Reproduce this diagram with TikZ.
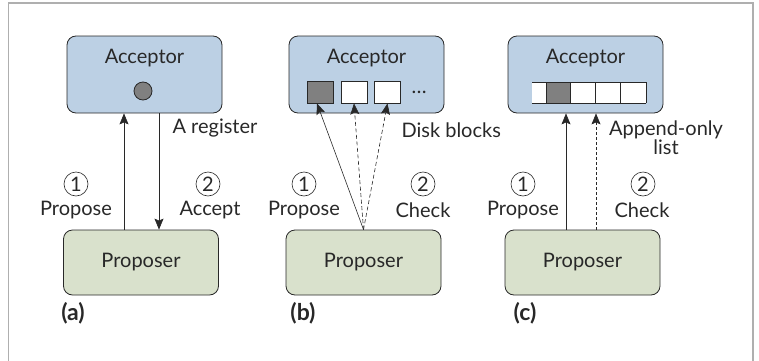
\documentclass[tikz,border=0pt]{standalone}
\usepackage{fontspec}
\setmainfont{Lato}
\usetikzlibrary{arrows.meta,positioning,calc}
\definecolor{myBlue}{RGB}{188,208,228}
\definecolor{myGreen}{RGB}{217,225,204}
\definecolor{myDGray}{RGB}{40,40,40}
\definecolor{myMGray}{RGB}{128,128,128}
\definecolor{myFrame}{RGB}{175,175,175}

\begin{document}
\begin{tikzpicture}[x=1pt, y=1pt, font=\fontsize{20}{20}\selectfont, text=myDGray,
    box/.style={draw=myDGray, thick, rounded corners=9pt, minimum width=155pt, inner sep=0pt},
    acc/.style={box, fill=myBlue, minimum height=77pt},
    prop/.style={box, fill=myGreen, minimum height=65pt},
    cell/.style={draw=myDGray, thick, fill=white, minimum width=26pt, minimum height=22pt, inner sep=0pt},
    num/.style={circle, draw=myDGray, semithick, inner sep=0pt, minimum size=24pt},
    subcap/.style={font=\fontsize{23}{23}\selectfont\bfseries},
    arr/.style={myDGray, semithick, -{Stealth[length=11pt, width=9pt, inset=2pt]}},
    dsh/.style={arr, dash pattern=on 4pt off 2.5pt}]
  \useasboundingbox (0,0) rectangle (759,360);
  \clip (0,0) rectangle (759,360);
  % Rahmen
  \draw[myFrame, line width=1.5pt] (8.5,357) rectangle (753,-20);

  % (a) register
  \node[acc] (aA) at (144.5,285.5) {};
  \node (aAt) at ($(aA.north)+(0,-22)$) {Acceptor};
  \node[circle, draw=myDGray, thick, fill=myMGray, minimum size=18pt, inner sep=0pt] (aReg) at (143,269) {};
  \node[prop] (aP) at (141,97.5) {Proposer};
  \draw[arr] ([xshift=-17pt]aP.north) -- ([xshift=-17pt]aP.north |- aA.south);
  \draw[arr] ([xshift=14.5pt]aA.south) -- ([xshift=14.5pt]aA.south |- aP.north);
  \node[anchor=west] (aRegL) at (169,232) {A register};
  \node[num] (a1) at (76,176) {1};
  \node (a1t) at (76,150) {Propose};
  \node[num] (a2) at (208,176) {2};
  \node (a2t) at (210,150) {Accept};
  \node[subcap] (aCap) at (73,47) {(a)};

  % (b) disk blocks
  \node[acc] (bA) at (366.5,285.5) {};
  \node (bAt) at ($(bA.north)+(0,-22)$) {Acceptor};
  \node[cell, fill=myMGray] (b1) at (320,268) {};
  \node[cell] (b2) at (354,268) {};
  \node[cell] (b3) at (387.5,268) {};
  \node (bDots) at (419,268) {\dots};
  \node[prop] (bP) at (363.5,97.5) {Proposer};
  \draw[arr] (bP.north) -- ([xshift=-3pt]b1.south);
  \foreach \b in {b2,b3}
    \draw[dsh] (bP.north) -- (\b.south);
  \node[anchor=west] (bDisk) at (398,230) {Disk blocks};
  \node[num] (b1n) at (304,176) {1};
  \node (b1t) at (304,150) {Propose};
  \node[num] (b2n) at (423,176) {2};
  \node (b2t) at (423,150) {Check};
  \node[subcap] (bCap) at (303,47) {(b)};

  % (c) append-only list
  \node[acc] (cA) at (585.5,285.5) {};
  \node (cAt) at ($(cA.north)+(0,-22)$) {Acceptor};
  \fill[white] (532,257) rectangle (646,278);
  \fill[myMGray] (546,257) rectangle (570,278);
  \draw[myDGray, thick] (532,257) -- (646,257) (532,278) -- (646,278);
  \foreach \x in {546,570,595,620,646}
    \draw[myDGray, thick] (\x,257) -- (\x,278);
  \node[prop] (cP) at (582.5,97.5) {Proposer};
  \draw[arr] ([xshift=-16.5pt]cP.north) -- ([xshift=-16.5pt]cP.north |- cA.south);
  \draw[dsh, dash pattern=on 3pt off 2pt] ([xshift=13.5pt]cP.north) -- ([xshift=13.5pt]cP.north |- cA.south);
  \node[align=center, font=\fontsize{20}{19}\selectfont] (cList) at (666,222) {Append-only\\list};
  \node[num] (c1n) at (523,176) {1};
  \node (c1t) at (523,150) {Propose};
  \node[num] (c2n) at (643,176) {2};
  \node (c2t) at (642,150) {Check};
  \node[subcap] (cCap) at (525,47) {(c)};
\end{tikzpicture}
\end{document}
